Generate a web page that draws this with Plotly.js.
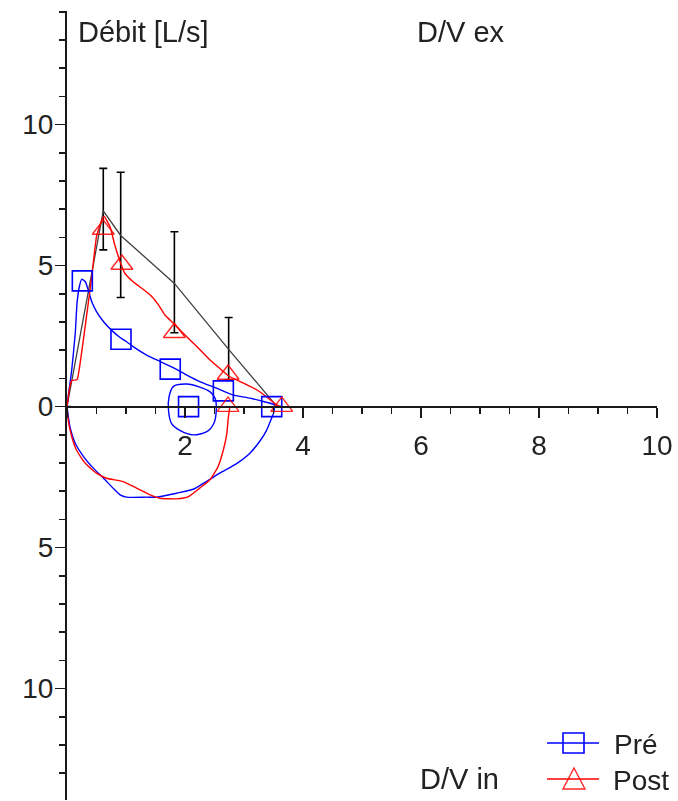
<!DOCTYPE html>
<html>
<head>
<meta charset="utf-8">
<script src="https://cdn.plot.ly/plotly-3.0.1.min.js"></script>
<style>html,body{margin:0;padding:0;background:#fff;}</style>
</head>
<body>
<div id="chart" style="width:678px;height:801px;"></div>
<script>
// Mean (reference) expiratory curve with error bars
const meanX = [0, 0.615, 0.91, 1.82, 2.74, 3.56];
const meanY = [0, 6.94, 6.07, 4.37, 2.03, 0];
const meanErrPlus = [null, 1.51, 2.24, 1.83, 1.13, null];
const meanErrMinus = [null, 1.38, 2.2, 1.75, 1.08, null];

// Pré: expiratory (upper) curve
const preExpX = [0, 0.02, 0.08, 0.14, 0.17, 0.21, 0.25, 0.31, 0.36, 0.42, 0.50, 0.62, 0.78, 0.90, 1.01, 1.12, 1.35, 1.58, 1.80, 2.03, 2.25, 2.54, 2.82, 3.10, 3.33, 3.53, 3.55];
const preExpY = [0, 0.35, 1.30, 2.60, 3.67, 4.26, 4.52, 4.43, 4.14, 3.72, 3.37, 3.01, 2.66, 2.45, 2.30, 2.13, 1.83, 1.60, 1.38, 1.12, 0.89, 0.65, 0.41, 0.30, 0.18, 0.06, 0];
// Pré: inspiratory (lower) curve
const preInX = [0, 0.05, 0.14, 0.28, 0.45, 0.62, 0.78, 0.90, 1.01, 1.35, 1.52, 1.86, 2.14, 2.31, 2.59, 2.88, 3.10, 3.27, 3.38, 3.45, 3.50, 3.52];
const preInY = [0, -0.71, -1.30, -1.77, -2.19, -2.54, -2.89, -3.13, -3.21, -3.21, -3.21, -3.07, -2.93, -2.72, -2.36, -2.01, -1.65, -1.22, -0.85, -0.50, -0.24, 0];
// Pré: small loop around 2 L
const preLoopX = [1.80, 2.03, 2.25, 2.42, 2.51, 2.53, 2.49, 2.37, 2.14, 1.92, 1.77, 1.72, 1.73, 1.80];
const preLoopY = [0.71, 0.80, 0.69, 0.53, 0.30, -0.12, -0.59, -0.89, -1.00, -0.85, -0.59, -0.12, 0.35, 0.71];
// Pré markers
const preMarkX = [0.26, 0.915, 1.75, 2.65, 2.06, 3.47];
const preMarkY = [4.46, 2.39, 1.33, 0.56, 0, 0];

// Post: expiratory (upper) curve
const postExpX = [0, 0.04, 0.08, 0.17, 0.22, 0.33, 0.42, 0.50, 0.59, 0.63, 0.73, 0.81, 0.90, 0.98, 1.12, 1.29, 1.44, 1.55, 1.66, 1.80, 1.97, 2.20, 2.42, 2.62, 2.76, 2.99, 3.22, 3.38, 3.55, 3.62];
const postExpY = [0, 0.60, 0.93, 0.95, 1.50, 3.19, 4.61, 6.03, 6.62, 6.74, 6.38, 5.73, 5.14, 4.73, 4.43, 4.16, 3.90, 3.61, 3.25, 2.96, 2.60, 2.13, 1.66, 1.30, 1.06, 0.83, 0.59, 0.35, 0.06, 0];
// Post: inspiratory (lower) curve
const postInX = [0, 0.02, 0.08, 0.16, 0.31, 0.50, 0.67, 0.95, 1.18, 1.41, 1.58, 1.86, 2.06, 2.25, 2.42, 2.56, 2.65, 2.71, 2.73, 2.76];
const postInY = [0, -0.47, -1.06, -1.54, -2.01, -2.36, -2.54, -2.66, -2.89, -3.13, -3.25, -3.27, -3.19, -2.89, -2.60, -2.13, -1.54, -0.94, -0.47, 0];
// Post markers
const postMarkX = [0.615, 0.93, 1.82, 2.73, 2.73, 3.64];
const postMarkY = [6.28, 5.04, 2.62, 1.14, 0, 0];

// Axis tick labels
const xTickVals = [0, 2, 4, 6, 8, 10];
const xTickText = ['', '2', '4', '6', '8', '10'];
const yTickVals = [-10, -5, 0, 5, 10];
const yTickText = ['10', '5', '0', '5', '10'];

// Series names
const seriesNames = ['Pré', 'Post'];

const BLUE = '#0000ff', RED = '#ff0000', INK = '#1a1a1a';
const FONT = 'Liberation Sans, Arial, sans-serif';

const traces = [
  {x: meanX, y: meanY, mode: 'lines', type: 'scatter', showlegend: false,
   line: {color: '#404040', width: 1.3},
   error_y: {type: 'data', array: meanErrPlus, arrayminus: meanErrMinus, symmetric: false,
             color: '#000', thickness: 1.6, width: 4}},
  {x: preExpX, y: preExpY, mode: 'lines', name: seriesNames[0], showlegend: false, line: {color: BLUE, width: 1.4, shape: 'spline', smoothing: 0.5}},
  {x: preInX, y: preInY, mode: 'lines', name: seriesNames[0], showlegend: false, line: {color: BLUE, width: 1.4, shape: 'spline', smoothing: 0.6}},
  {x: preLoopX, y: preLoopY, mode: 'lines', name: seriesNames[0], showlegend: false, line: {color: BLUE, width: 1.4, shape: 'spline', smoothing: 0.8}},
  {x: postExpX, y: postExpY, mode: 'lines', name: seriesNames[1], showlegend: false, line: {color: RED, width: 1.4, shape: 'spline', smoothing: 0.4}},
  {x: postInX, y: postInY, mode: 'lines', name: seriesNames[1], showlegend: false, line: {color: RED, width: 1.4, shape: 'spline', smoothing: 0.5}},
  {x: preMarkX, y: preMarkY, mode: 'markers', name: seriesNames[0], showlegend: false,
   marker: {symbol: 'square-open', size: 20, color: BLUE, line: {width: 1.6, color: BLUE}}},
  {x: postMarkX, y: postMarkY, mode: 'markers', name: seriesNames[1], showlegend: false,
   marker: {symbol: 'triangle-up-open', size: 19, color: RED, line: {width: 1.4, color: RED}}, opacity: 0.85}
];

const yLo = -13.95, yHi = 14.03;
const tickFont = {family: FONT, size: 28, color: '#222'};
const annFont = {family: FONT, size: 29, color: '#222'};
const legFont = {family: FONT, size: 28, color: '#222'};

// Legend drawn as layout decoration in paper coordinates (plot area: 590 x 789 px)
const PX = v => (v - 67) / 590;
const PY = v => (800 - v) / 789;

const shapes = [
  {type: 'line', xref: 'paper', yref: 'paper', x0: PX(547), x1: PX(599), y0: PY(743), y1: PY(743), line: {color: BLUE, width: 1.4}},
  {type: 'rect', xref: 'paper', yref: 'paper', x0: PX(563), x1: PX(584), y0: PY(753), y1: PY(733), line: {color: BLUE, width: 1.6}, fillcolor: 'rgba(0,0,0,0)'},
  {type: 'line', xref: 'paper', yref: 'paper', x0: PX(547), x1: PX(599), y0: PY(779), y1: PY(779), line: {color: RED, width: 1.4}},
  {type: 'path', xref: 'paper', yref: 'paper',
   path: `M ${PX(574)},${PY(768)} L ${PX(585)},${PY(789)} L ${PX(563)},${PY(789)} Z`,
   line: {color: 'rgba(255,0,0,0.85)', width: 1.4}, fillcolor: 'rgba(0,0,0,0)'}
];

const layout = {
  width: 678, height: 801,
  margin: {l: 67, r: 21, t: 11, b: 1, pad: 0},
  paper_bgcolor: '#fff', plot_bgcolor: '#fff',
  showlegend: false,
  xaxis: {range: [0, 10], anchor: 'free', position: (-yLo) / (yHi - yLo),
          showline: true, linecolor: INK, linewidth: 2, zeroline: false, showgrid: false,
          ticks: 'outside', ticklen: 10, tickwidth: 1.6, tickcolor: INK, ticklabelstandoff: 4,
          tickmode: 'array', tickvals: xTickVals, ticktext: xTickText, tickfont: tickFont,
          minor: {tickmode: 'linear', tick0: 0, dtick: 0.5, ticks: 'outside', ticklen: 6, tickwidth: 1.6, tickcolor: INK, showgrid: false},
          automargin: false, fixedrange: true},
  yaxis: {range: [yLo, yHi], showline: true, linecolor: INK, linewidth: 2, zeroline: false, showgrid: false,
          ticks: 'outside', ticklen: 10, tickwidth: 1.6, tickcolor: INK, ticklabelstandoff: -4,
          tickmode: 'array', tickvals: yTickVals, ticktext: yTickText, tickfont: tickFont,
          minor: {tickmode: 'linear', tick0: 0, dtick: 1, ticks: 'outside', ticklen: 6, tickwidth: 1.6, tickcolor: INK, showgrid: false},
          automargin: false, fixedrange: true},
  shapes: shapes,
  annotations: [
    {text: 'Débit [L/s]', x: 0.15, y: 13.3, xref: 'x', yref: 'y', xanchor: 'left', yanchor: 'middle', showarrow: false, font: annFont},
    {text: 'D/V ex', x: 5.9, y: 13.3, xref: 'x', yref: 'y', xanchor: 'left', yanchor: 'middle', showarrow: false, font: annFont},
    {text: 'Vol [L]', x: 10.02, y: 1.0, xref: 'x', yref: 'y', xanchor: 'right', yanchor: 'middle', showarrow: false, font: annFont},
    {text: 'D/V in', x: 5.97, y: -13.22, xref: 'x', yref: 'y', xanchor: 'left', yanchor: 'middle', showarrow: false, font: annFont, borderpad: 0},
    {text: seriesNames[0], x: PX(612), y: PY(744), xref: 'paper', yref: 'paper', xanchor: 'left', yanchor: 'middle', showarrow: false, font: legFont},
    {text: seriesNames[1], x: PX(612), y: PY(780), xref: 'paper', yref: 'paper', xanchor: 'left', yanchor: 'middle', showarrow: false, font: legFont, borderpad: 0}
  ]
};

Plotly.newPlot('chart', traces, layout, {displayModeBar: false, staticPlot: true});
</script>
</body>
</html>
